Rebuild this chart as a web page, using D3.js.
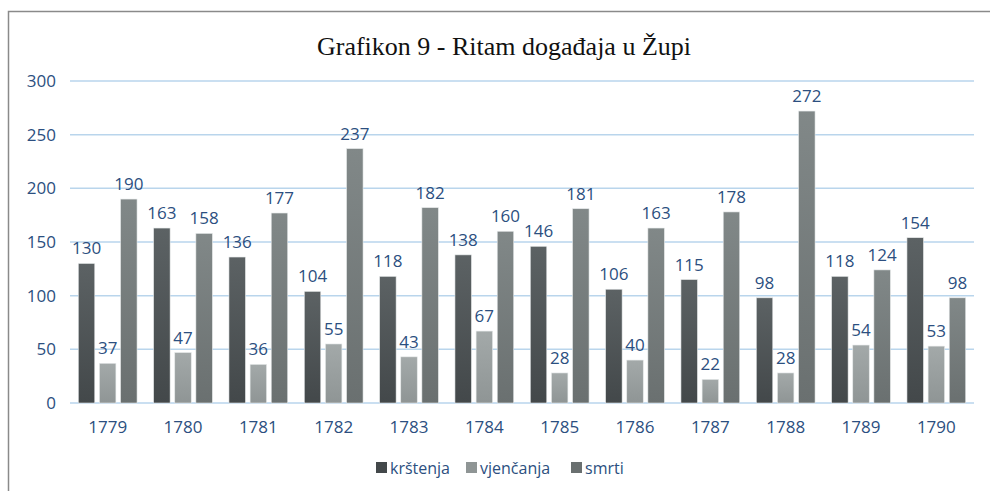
<!DOCTYPE html>
<html>
<head>
<meta charset="utf-8">
<script src="https://cdn.jsdelivr.net/npm/d3@7"></script>
<style>
  body { margin: 0; background: #fff; }
  svg { display: block; }
</style>
</head>
<body>
<div class="chart"></div>
<script>
var years = ["1779", "1780", "1781", "1782", "1783", "1784", "1785", "1786", "1787", "1788", "1789", "1790"];
var krstenja = [130, 163, 136, 104, 118, 138, 146, 106, 115, 98, 118, 154];
var vjencanja = [37, 47, 36, 55, 43, 67, 28, 40, 22, 28, 54, 53];
var smrti = [190, 158, 177, 237, 182, 160, 181, 163, 178, 272, 124, 98];
var seriesNames = ["krštenja", "vjenčanja", "smrti"];
var yTicks = [0, 50, 100, 150, 200, 250, 300];

var W = 990, H = 491;
var margin = { top: 81, right: 16, bottom: 88, left: 70 };
var width = W - margin.left - margin.right;
var height = H - margin.top - margin.bottom;
var blue = "#2c4f80";
var labelFont = "500 17px 'Open Sans', sans-serif";

var svg = d3.select(".chart").append("svg")
  .attr("width", W).attr("height", H);

// gradients for the bars
var defs = svg.append("defs");
var grads = [
  { id: "g0", top: "#5c6264", bottom: "#43484a" },
  { id: "g1", top: "#a3a9a9", bottom: "#8f9595" },
  { id: "g2", top: "#818888", bottom: "#6a7070" }
];
grads.forEach(function (g) {
  var lg = defs.append("linearGradient").attr("id", g.id)
    .attr("x1", 0).attr("y1", 0).attr("x2", 0).attr("y2", 1);
  lg.append("stop").attr("offset", "0%").attr("stop-color", g.top);
  lg.append("stop").attr("offset", "100%").attr("stop-color", g.bottom);
});

// frame
svg.append("path")
  .attr("d", "M8.5," + H + "V11.5H" + W)
  .attr("fill", "none").attr("stroke", "#8a8a8a").attr("stroke-width", 1.5);

svg.append("text")
  .attr("x", 504).attr("y", 55)
  .attr("text-anchor", "middle")
  .style("font", "26px 'Liberation Serif', 'Times New Roman', serif")
  .attr("fill", "#111")
  .text("Grafikon 9 - Ritam događaja u Župi");

var chart = svg.append("g")
  .attr("transform", "translate(" + margin.left + "," + margin.top + ")");

var x0 = d3.scaleBand().domain(years).range([0, width]).paddingInner(0.22).paddingOuter(0.11);
var x1 = d3.scaleBand().domain(seriesNames).range([0, x0.bandwidth()]).paddingInner(0.22);
var y = d3.scaleLinear().domain([0, 300]).range([height, 0]);

// gridlines
chart.append("g")
  .selectAll("line").data(yTicks).enter().append("line")
  .attr("x1", 0).attr("x2", width)
  .attr("y1", function (d) { return y(d); }).attr("y2", function (d) { return y(d); })
  .attr("stroke", "#b9d5ec").attr("stroke-width", 1.5);

// y axis labels
var yAxis = chart.append("g")
  .call(d3.axisLeft(y).tickValues(yTicks).tickSize(0).tickPadding(14));
yAxis.select(".domain").remove();
yAxis.selectAll("text")
  .style("font", labelFont).attr("fill", blue);

// x axis labels
var xAxis = chart.append("g")
  .attr("transform", "translate(0," + height + ")")
  .call(d3.axisBottom(x0).tickSize(0).tickPadding(18));
xAxis.select(".domain").remove();
xAxis.selectAll("text")
  .style("font", labelFont).attr("fill", blue);

var rows = years.map(function (yr, i) {
  return { year: yr, values: [krstenja[i], vjencanja[i], smrti[i]] };
});

var group = chart.selectAll(".grp").data(rows).enter().append("g")
  .attr("class", "grp")
  .attr("transform", function (d) { return "translate(" + x0(d.year) + ",0)"; });

var cells = group.selectAll("g").data(function (d) {
  return d.values.map(function (v, j) { return { name: seriesNames[j], j: j, value: v }; });
}).enter().append("g");

cells.append("rect")
  .attr("x", function (d) { return x1(d.name); })
  .attr("width", x1.bandwidth())
  .attr("y", function (d) { return y(d.value); })
  .attr("height", function (d) { return height - y(d.value); })
  .attr("fill", function (d) { return "url(#g" + d.j + ")"; })
  .attr("stroke", "#e6e9ea").attr("stroke-width", 0.6);

cells.append("text")
  .attr("x", function (d) { return x1(d.name) + x1.bandwidth() / 2; })
  .attr("y", function (d) { return y(d.value) - 9; })
  .attr("text-anchor", "middle")
  .style("font", labelFont)
  .attr("fill", blue)
  .text(function (d) { return d.value; });

// legend
var legendX = [376, 466, 571];
var legend = svg.append("g").attr("transform", "translate(0,468)");
seriesNames.forEach(function (name, j) {
  legend.append("rect")
    .attr("x", legendX[j]).attr("y", -6)
    .attr("width", 11).attr("height", 11)
    .attr("fill", grads[j].bottom);
  legend.append("text")
    .attr("x", legendX[j] + 14).attr("y", 0)
    .attr("dy", "0.35em")
    .style("font", "500 16px 'Open Sans', sans-serif")
    .attr("fill", blue)
    .text(name);
});
</script>
</body>
</html>
